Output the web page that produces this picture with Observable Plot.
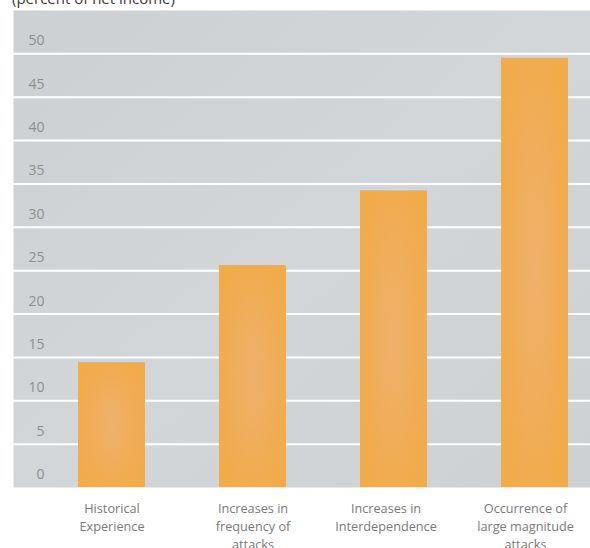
<!DOCTYPE html>
<html>
<head>
<meta charset="utf-8">
<script src="https://cdn.jsdelivr.net/npm/d3@7"></script>
<script src="https://cdn.jsdelivr.net/npm/@observablehq/plot@0.6"></script>
<style>
  html, body { margin: 0; padding: 0; background: #fff; overflow: hidden; }
  body { width: 590px; height: 548px; position: relative; font-family: "Open Sans", sans-serif; }
  #sub { position: absolute; top: -12px; left: 12px; font-size: 15px; color: #3a3a3a; white-space: nowrap; }
  #chart { position: absolute; top: 0; left: 0; }
</style>
</head>
<body>
<div id="sub">(percent of net income)</div>
<div id="chart"></div>
<script>
const categories = [
  "Historical\nExperience",
  "Increases in\nfrequency of\nattacks",
  "Increases in\nInterdependence",
  "Occurrence of\nlarge magnitude\nattacks"
];
const values = [14.4, 25.6, 34.2, 49.5];
const yTicks = [0, 5, 10, 15, 20, 25, 30, 35, 40, 45, 50];
const gridTicks = [5, 10, 15, 20, 25, 30, 35, 40, 45, 50];

const data = categories.map((c, i) => ({category: c, value: values[i]}));

const xAxisStyle = {anchor: "bottom", tickSize: 0, tickPadding: 13, fontSize: 12.7, fill: "#7a7a7a", lineHeight: 1.42, label: null};

const plot = Plot.plot({
  width: 590,
  height: 548,
  marginTop: 10,
  marginBottom: 61,
  marginLeft: 13,
  marginRight: 0,
  style: {fontFamily: "Open Sans, sans-serif", background: "transparent", overflow: "visible"},
  x: {domain: categories, range: [39.7, 606.3], paddingInner: 0.527, paddingOuter: 0.2635, label: null},
  y: {domain: [0, 55], label: null},
  marks: [
    Plot.frame({fill: "url(#bgGrad)", stroke: null}),
    Plot.ruleY(gridTicks, {stroke: "#ffffff", strokeWidth: 2}),
    Plot.barY(data, {x: "category", y: "value", fill: "url(#barGrad)"}),
    Plot.axisY(yTicks, {anchor: "left", tickSize: 0, tickPadding: -31, dy: -13, fontSize: 14, fill: "#8e8e8e", label: null}),
    Plot.axisX(categories.slice(0, 2), xAxisStyle),
    Plot.axisX([categories[2]], {...xAxisStyle, dx: -8}),
    Plot.axisX([categories[3]], {...xAxisStyle, dx: -9.5})
  ]
});

const svg = d3.select(plot);
const defs = svg.insert("defs", ":first-child");
const bg = defs.append("linearGradient").attr("id", "bgGrad").attr("x1", 0).attr("y1", 0).attr("x2", 1).attr("y2", 1);
bg.append("stop").attr("offset", "0%").attr("stop-color", "#cdd0d2");
bg.append("stop").attr("offset", "50%").attr("stop-color", "#d3d6d8");
bg.append("stop").attr("offset", "100%").attr("stop-color", "#ced1d3");
const bar = defs.append("radialGradient").attr("id", "barGrad").attr("cx", 0.5).attr("cy", 0.5).attr("r", 0.6);
bar.append("stop").attr("offset", "0%").attr("stop-color", "#efb06b");
bar.append("stop").attr("offset", "100%").attr("stop-color", "#f2ab49");

document.getElementById("chart").appendChild(plot);
</script>
</body>
</html>
